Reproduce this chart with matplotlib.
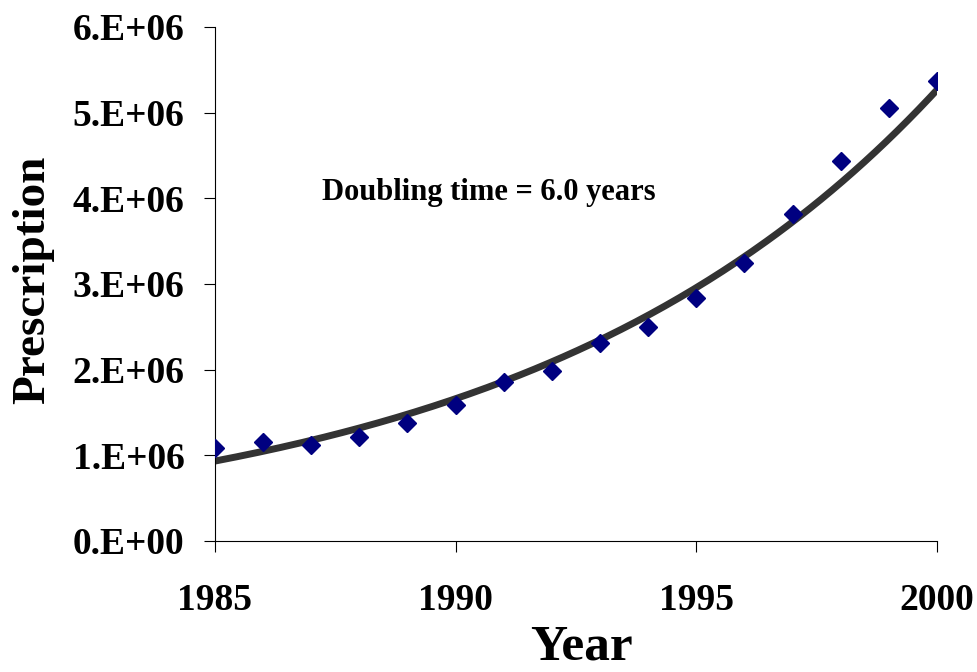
import numpy as np
import matplotlib.pyplot as plt

# prescriptions per year
years = [1985, 1986, 1987, 1988, 1989, 1990, 1991, 1992,
         1993, 1994, 1995, 1996, 1997, 1998, 1999, 2000]
prescriptions = [1.09e6, 1.16e6, 1.12e6, 1.21e6, 1.38e6, 1.59e6, 1.85e6, 1.98e6,
                 2.31e6, 2.50e6, 2.84e6, 3.25e6, 3.82e6, 4.43e6, 5.05e6, 5.37e6]
xticks = [1985, 1990, 1995, 2000]
yticks = [0, 1e6, 2e6, 3e6, 4e6, 5e6, 6e6]
ytick_labels = ['0.E+00', '1.E+06', '2.E+06', '3.E+06', '4.E+06', '5.E+06', '6.E+06']

# exponential trend line (log-linear fit)
x = np.array(years, dtype=float)
b, a = np.polyfit(x - 1985, np.log(prescriptions), 1)
xfit = np.linspace(1985, 2000, 200)
yfit = np.exp(a + b * (xfit - 1985))

plt.rcParams['font.family'] = ['Liberation Serif', 'DejaVu Serif']
plt.rcParams['font.weight'] = 'bold'

fig = plt.figure(figsize=(9.77, 6.72), dpi=100)
ax = fig.add_axes([0.220, 0.195, 0.739, 0.765])

ax.plot(xfit, yfit, color='#333333', lw=5, solid_capstyle='round', zorder=2)
ax.plot(years, prescriptions, 'D', color='#000080', markersize=9, zorder=3)

ax.set_xlim(1985, 2000)
ax.set_ylim(0, 6e6)
ax.set_xticks(xticks)
ax.set_yticks(yticks)
ax.set_yticklabels(ytick_labels)
ax.tick_params(axis='x', labelsize=27, length=8, pad=22, direction='out')
ax.tick_params(axis='y', labelsize=27, length=8, pad=14, direction='out')
for lbl in ax.get_xticklabels() + ax.get_yticklabels():
    lbl.set_fontweight('bold')

ax.spines['top'].set_visible(False)
ax.spines['right'].set_visible(False)

fig.text(0.034, 0.583, 'Prescription', fontsize=34, fontweight='bold',
         rotation=90, ha='center', va='center')
fig.text(0.595, 0.002, 'Year', fontsize=37, fontweight='bold',
         ha='center', va='bottom')

ax.text(1994.15, 4.07e6, 'Doubling time = 6.0 years', fontsize=22,
        fontweight='bold', ha='right', va='center')

fig.savefig('out.png', dpi=100)
